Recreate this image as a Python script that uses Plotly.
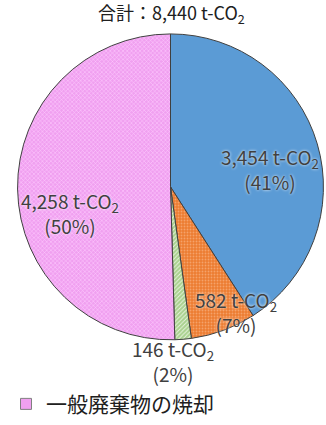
import math
import plotly.graph_objects as go

# Emissions breakdown (t-CO2)
categories = ["電気の使用", "燃料の使用", "その他", "一般廃棄物の焼却"]
emissions = [3454, 582, 146, 4258]
percent_labels = [41, 7, 2, 50]
title_total = 8440

W, H = 326, 425
FONT = "Noto Sans CJK JP"
TEXT_COLOR = "#404040"

# slice styles
fill_colors = ["#5B9BD5", "#ED7D31", "#A9D18E", "#F0A0F0"]
pattern_shapes = ["", ".", "/", "x"]
pattern_fg = ["#5B9BD5", "#F5A26A", "#EAF4E2", "#FFD0FF"]

# pie placement in pixels
cx, cy, r = 170.5, 190.0, 155.5

# label placement: (angle offset from slice middle in degrees, radius fraction)
label_place = [(6, 0.65), (-7, 0.92), (4, 1.14), (-14, 0.67)]

fig = go.Figure()
fig.add_trace(go.Pie(
    labels=categories,
    values=emissions,
    sort=False,
    direction="clockwise",
    rotation=0,
    textinfo="none",
    hoverinfo="label+value+percent",
    showlegend=False,
    marker=dict(
        colors=fill_colors,
        line=dict(color="#404040", width=1),
        pattern=dict(shape=pattern_shapes, fgcolor=pattern_fg,
                     bgcolor=fill_colors, size=3, solidity=0.3),
    ),
    domain=dict(x=[(cx - r) / W, (cx + r) / W],
                y=[1 - (cy + r) / H, 1 - (cy - r) / H]),
))

# legend entry for the waste incineration category
fig.add_trace(go.Scatter(
    x=[None], y=[None], mode="markers", name=categories[3],
    marker=dict(symbol="square", size=11, color=fill_colors[3],
                line=dict(color="#808080", width=1)),
    showlegend=True,
))

total = sum(emissions)
annotations = []
cum = 0
for val, pct, (dang, rf) in zip(emissions, percent_labels, label_place):
    mid = (cum + val / 2) / total * 360
    cum += val
    ang = math.radians(mid + dang)
    px = cx + rf * r * math.sin(ang)
    py = cy - rf * r * math.cos(ang)
    annotations.append(dict(
        x=px / W, y=1 - py / H, xref="paper", yref="paper",
        xanchor="center", yanchor="middle",
        text=f"{val:,} t-CO<sub>2</sub><br>({pct}%)",
        showarrow=False, align="center",
        font=dict(family=FONT, size=19, color=TEXT_COLOR,
                  shadow="0px 0px 3px white"),
    ))

annotations.append(dict(
    x=172 / W, y=1 - 14 / H, xref="paper", yref="paper",
    xanchor="center", yanchor="middle",
    text=f"合計：{title_total:,} t-CO<sub>2</sub>",
    showarrow=False, font=dict(family=FONT, size=18, color="#202020"),
))
annotations.append(dict(
    x=25 / W, y=1 - 6 / H, xref="paper", yref="paper",
    xanchor="center", yanchor="bottom",
    text="<b>度</b>", showarrow=False,
    font=dict(family=FONT, size=24, color="#000000"),
))

fig.update_layout(
    width=W, height=H,
    margin=dict(l=0, r=0, t=0, b=0),
    paper_bgcolor="white", plot_bgcolor="white",
    xaxis=dict(visible=False), yaxis=dict(visible=False),
    annotations=annotations,
    legend=dict(x=6 / W, y=1 - 411 / H, xanchor="left", yanchor="middle",
                font=dict(family=FONT, size=21, color="#202020"),
                bgcolor="rgba(0,0,0,0)", itemwidth=30),
)

fig.write_html("out.html")
